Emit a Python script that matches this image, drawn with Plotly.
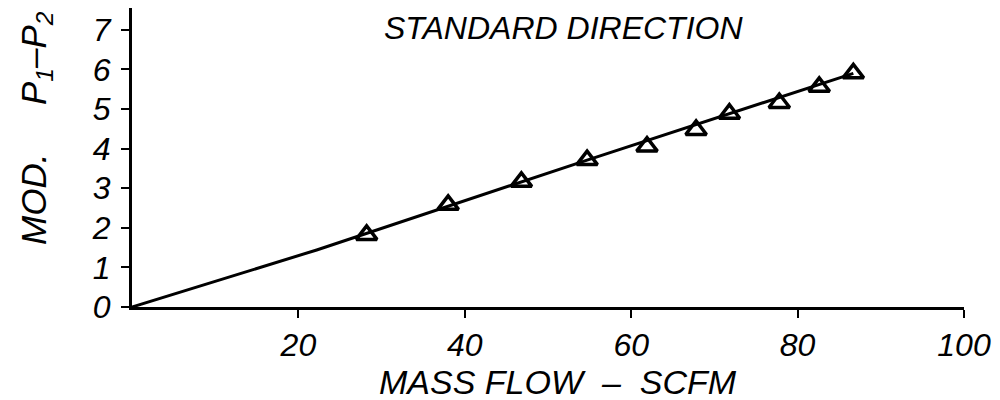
import plotly.graph_objects as go

# data
flow = [28.2, 38.0, 46.8, 54.7, 61.9, 67.8, 71.8, 77.8, 82.6, 86.7]
dp = [1.82, 2.58, 3.16, 3.71, 4.05, 4.47, 4.88, 5.15, 5.56, 5.90]
fit_x = [0.0, 22.2, 54.7, 86.7]
fit_y = [0.0, 1.44, 3.71, 5.90]
x_ticks = [20, 40, 60, 80, 100]
y_ticks = [0, 1, 2, 3, 4, 5, 6, 7]

FONT = "Liberation Sans, Arial, sans-serif"
W, H = 1000, 400
L, R, T, B = 132, 36, 8, 93

fig = go.Figure()
fig.add_trace(go.Scatter(x=fit_x, y=fit_y, mode="lines",
                         line=dict(color="black", width=3), showlegend=False))
fig.add_trace(go.Scatter(x=flow, y=dp, mode="markers",
                         marker=dict(symbol="triangle-up-open", size=18,
                                     color="black", line=dict(color="black", width=3.5)),
                         showlegend=False))

def px(xp):
    return (xp - L) / (W - L - R)

def py(yp):
    return (H - B - yp) / (H - T - B)

fig.update_layout(
    width=W, height=H,
    margin=dict(l=L, r=R, t=T, b=B),
    paper_bgcolor="white", plot_bgcolor="white",
    font=dict(family=FONT, color="black"),
    xaxis=dict(range=[0, 100], tickvals=x_ticks, ticks="outside", ticklen=8,
               tickwidth=2, tickcolor="black", showline=True, linewidth=3,
               linecolor="black", showgrid=False, zeroline=False,
               tickfont=dict(size=32, family=FONT, style="italic")),
    yaxis=dict(range=[0, 7.55], tickvals=y_ticks, ticks="outside", ticklen=8,
               tickwidth=2, tickcolor="black", showline=True, linewidth=3,
               linecolor="black", showgrid=False, zeroline=False,
               ticklabelstandoff=4,
               tickfont=dict(size=32, family=FONT, style="italic")),
    annotations=[
        dict(text="STANDARD DIRECTION", xref="paper", yref="paper",
             x=px(563), y=py(28), xanchor="center", yanchor="middle", showarrow=False,
             font=dict(size=32, family=FONT, style="italic")),
        dict(text="MASS FLOW  \u2013  SCFM", xref="paper", yref="paper",
             x=px(558), y=py(382), xanchor="center", yanchor="middle", showarrow=False,
             font=dict(size=34, family=FONT, style="italic")),
        dict(text="MOD.     P<sub>1</sub>\u2013P<sub>2</sub>", xref="paper", yref="paper",
             x=px(36), y=py(128), xanchor="center", yanchor="middle", showarrow=False,
             textangle=-90,
             font=dict(size=35, family=FONT, style="italic")),
    ],
)

fig.write_html("out.html", config={"displayModeBar": False},
               post_script="document.body.style.margin='0';")
